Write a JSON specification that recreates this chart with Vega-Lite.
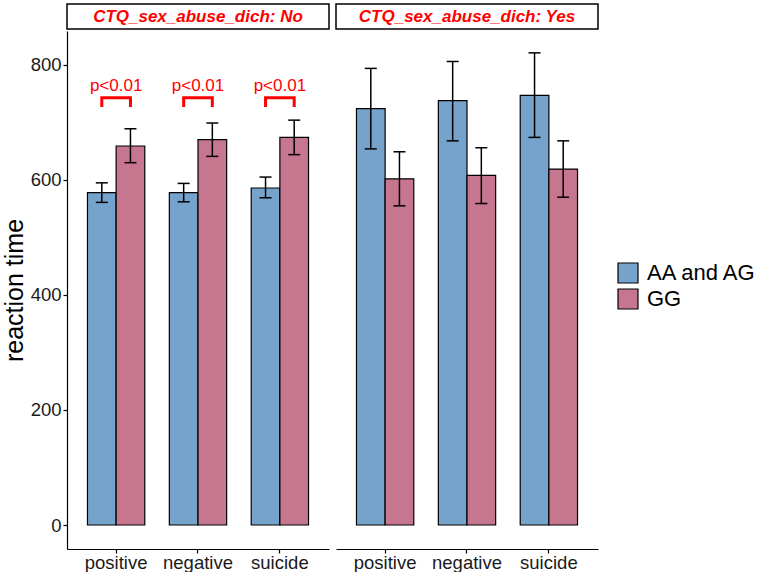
{
  "$schema": "https://vega.github.io/schema/vega-lite/v6.json",
  "background": "white",
  "padding": {"left": 2, "top": 3, "right": 2, "bottom": 0},
  "datasets": {
    "bars": [
      {"abuse": "No", "cond": "positive", "geno": "AA and AG", "mean": 578, "lo": 561, "hi": 595},
      {"abuse": "No", "cond": "positive", "geno": "GG", "mean": 659, "lo": 630, "hi": 689},
      {"abuse": "No", "cond": "negative", "geno": "AA and AG", "mean": 578, "lo": 562, "hi": 594},
      {"abuse": "No", "cond": "negative", "geno": "GG", "mean": 670, "lo": 641, "hi": 699},
      {"abuse": "No", "cond": "suicide", "geno": "AA and AG", "mean": 586, "lo": 569, "hi": 605},
      {"abuse": "No", "cond": "suicide", "geno": "GG", "mean": 674, "lo": 644, "hi": 704},
      {"abuse": "Yes", "cond": "positive", "geno": "AA and AG", "mean": 724, "lo": 654, "hi": 794},
      {"abuse": "Yes", "cond": "positive", "geno": "GG", "mean": 602, "lo": 555, "hi": 649},
      {"abuse": "Yes", "cond": "negative", "geno": "AA and AG", "mean": 738, "lo": 668, "hi": 806},
      {"abuse": "Yes", "cond": "negative", "geno": "GG", "mean": 608, "lo": 559, "hi": 656},
      {"abuse": "Yes", "cond": "suicide", "geno": "AA and AG", "mean": 747, "lo": 674, "hi": 821},
      {"abuse": "Yes", "cond": "suicide", "geno": "GG", "mean": 619, "lo": 570, "hi": 668}
    ],
    "brackets": [
      {"cond": "positive", "geno": "AA and AG", "ord": 1, "y": 727},
      {"cond": "positive", "geno": "AA and AG", "ord": 2, "y": 743},
      {"cond": "positive", "geno": "GG", "ord": 3, "y": 743},
      {"cond": "positive", "geno": "GG", "ord": 4, "y": 727},
      {"cond": "negative", "geno": "AA and AG", "ord": 1, "y": 727},
      {"cond": "negative", "geno": "AA and AG", "ord": 2, "y": 743},
      {"cond": "negative", "geno": "GG", "ord": 3, "y": 743},
      {"cond": "negative", "geno": "GG", "ord": 4, "y": 727},
      {"cond": "suicide", "geno": "AA and AG", "ord": 1, "y": 727},
      {"cond": "suicide", "geno": "AA and AG", "ord": 2, "y": 743},
      {"cond": "suicide", "geno": "GG", "ord": 3, "y": 743},
      {"cond": "suicide", "geno": "GG", "ord": 4, "y": 727}
    ],
    "sig": [
      {"cond": "positive", "y": 763, "label": "p<0.01"},
      {"cond": "negative", "y": 763, "label": "p<0.01"},
      {"cond": "suicide", "y": 763, "label": "p<0.01"}
    ],
    "strips": [
      {"abuse": "No", "label": "CTQ_sex_abuse_dich: No"},
      {"abuse": "Yes", "label": "CTQ_sex_abuse_dich: Yes"}
    ]
  },
  "hconcat": [
    {
      "bounds": "flush",
      "spacing": 2,
      "vconcat": [
        {
          "width": 262,
          "height": 25,
          "view": {"stroke": "black", "strokeWidth": 1.5, "fill": "white"},
          "data": {"name": "strips"},
          "transform": [{"filter": "datum.abuse === 'No'"}],
          "mark": {"type": "text", "color": "red", "fontSize": 17, "fontWeight": "bold", "fontStyle": "italic", "baseline": "middle", "align": "center"},
          "encoding": {"text": {"field": "label"}}
        },
        {
          "width": 262,
          "height": 518,
          "encoding": {
            "x": {"field": "cond", "type": "nominal", "sort": ["positive", "negative", "suicide"],
                  "scale": {"paddingInner": 0.3, "paddingOuter": 0.25}, "title": null},
            "xOffset": {"field": "geno", "type": "nominal", "scale": {"domain": ["AA and AG", "GG"], "paddingInner": 0, "paddingOuter": 0}}
          },
          "layer": [
            {
              "data": {"name": "bars"},
              "transform": [{"filter": "datum.abuse === 'No'"}],
              "mark": {"type": "bar", "stroke": "black", "strokeWidth": 1.2},
              "encoding": {
                "y": {"field": "mean", "type": "quantitative",
                      "scale": {"domain": [-41.7, 859], "nice": false, "zero": false},
                      "axis": {"values": [0, 200, 400, 600, 800]}, "title": "reaction time"},
                "y2": {"datum": 0},
                "color": {"field": "geno", "type": "nominal",
                          "scale": {"domain": ["AA and AG", "GG"], "range": ["#76A3CB", "#C7768F"]},
                          "legend": {"title": null}}
              }
            },
            {
              "data": {"name": "bars"},
              "transform": [{"filter": "datum.abuse === 'No'"}],
              "mark": {"type": "rule", "color": "black", "strokeWidth": 1.5},
              "encoding": {"y": {"field": "lo", "type": "quantitative"}, "y2": {"field": "hi"}}
            },
            {
              "data": {"name": "bars"},
              "transform": [{"filter": "datum.abuse === 'No'"}],
              "mark": {"type": "tick", "color": "black", "size": 12, "thickness": 1.5, "opacity": 1},
              "encoding": {"y": {"field": "lo", "type": "quantitative"}}
            },
            {
              "data": {"name": "bars"},
              "transform": [{"filter": "datum.abuse === 'No'"}],
              "mark": {"type": "tick", "color": "black", "size": 12, "thickness": 1.5, "opacity": 1},
              "encoding": {"y": {"field": "hi", "type": "quantitative"}}
            },
            {
              "data": {"name": "brackets"},
              "mark": {"type": "line", "color": "red", "strokeWidth": 3},
              "encoding": {
                "y": {"field": "y", "type": "quantitative"},
                "detail": {"field": "cond"},
                "order": {"field": "ord"}
              }
            },
            {
              "data": {"name": "sig"},
              "mark": {"type": "text", "color": "red", "fontSize": 17, "baseline": "middle"},
              "encoding": {
                "x": {"field": "cond", "type": "nominal", "sort": ["positive", "negative", "suicide"]},
                "xOffset": null,
                "y": {"field": "y", "type": "quantitative"},
                "text": {"field": "label"}
              }
            }
          ]
        }
      ]
    },
    {
      "bounds": "flush",
      "spacing": 2,
      "vconcat": [
        {
          "width": 262,
          "height": 25,
          "view": {"stroke": "black", "strokeWidth": 1.5, "fill": "white"},
          "data": {"name": "strips"},
          "transform": [{"filter": "datum.abuse === 'Yes'"}],
          "mark": {"type": "text", "color": "red", "fontSize": 17, "fontWeight": "bold", "fontStyle": "italic", "baseline": "middle", "align": "center"},
          "encoding": {"text": {"field": "label"}}
        },
        {
          "width": 262,
          "height": 518,
          "data": {"name": "bars"},
          "transform": [{"filter": "datum.abuse === 'Yes'"}],
          "encoding": {
            "x": {"field": "cond", "type": "nominal", "sort": ["positive", "negative", "suicide"],
                  "scale": {"paddingInner": 0.3, "paddingOuter": 0.25}, "title": null},
            "xOffset": {"field": "geno", "type": "nominal", "scale": {"domain": ["AA and AG", "GG"], "paddingInner": 0, "paddingOuter": 0}}
          },
          "layer": [
            {
              "mark": {"type": "bar", "stroke": "black", "strokeWidth": 1.2},
              "encoding": {
                "y": {"field": "mean", "type": "quantitative",
                      "scale": {"domain": [-41.7, 859], "nice": false, "zero": false}, "axis": null},
                "y2": {"datum": 0},
                "color": {"field": "geno", "type": "nominal",
                          "scale": {"domain": ["AA and AG", "GG"], "range": ["#76A3CB", "#C7768F"]},
                          "legend": {"title": null}}
              }
            },
            {
              "mark": {"type": "rule", "color": "black", "strokeWidth": 1.5},
              "encoding": {"y": {"field": "lo", "type": "quantitative"}, "y2": {"field": "hi"}}
            },
            {
              "mark": {"type": "tick", "color": "black", "size": 12, "thickness": 1.5, "opacity": 1},
              "encoding": {"y": {"field": "lo", "type": "quantitative"}}
            },
            {
              "mark": {"type": "tick", "color": "black", "size": 12, "thickness": 1.5, "opacity": 1},
              "encoding": {"y": {"field": "hi", "type": "quantitative"}}
            }
          ]
        }
      ]
    }
  ],
  "spacing": 5,
  "config": {
    "font": "Liberation Sans",
    "view": {"stroke": null},
    "axis": {
      "domainColor": "black", "domainWidth": 1.2, "tickColor": "black", "tickWidth": 1.2, "tickSize": 4,
      "labelColor": "#1a1a1a", "labelFontSize": 18.5, "labelFont": "Liberation Sans",
      "titleFont": "Liberation Sans", "titleFontSize": 25, "titleFontWeight": "normal", "titleColor": "black",
      "grid": false
    },
    "axisX": {"labelPadding": 0, "labelAngle": 0},
    "axisY": {"titlePadding": 3, "labelPadding": 2},
    "legend": {
      "symbolType": "square", "symbolSize": 400, "symbolStrokeColor": "black", "symbolStrokeWidth": 1.2,
      "symbolOpacity": 1, "labelFontSize": 22, "labelFont": "Liberation Sans", "labelColor": "black",
      "labelOffset": 8, "rowPadding": 0, "offset": 18, "layout": {"anchor": "middle"}
    }
  }
}
